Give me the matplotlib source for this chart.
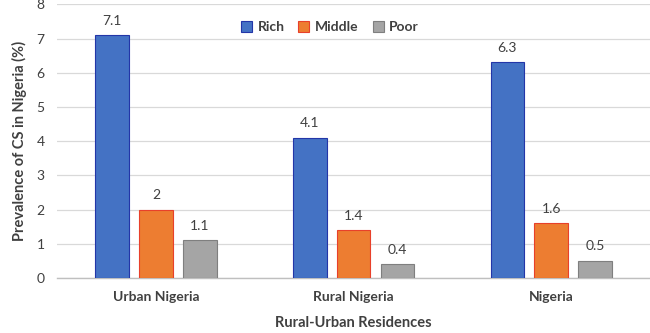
import matplotlib
matplotlib.use("Agg")
import matplotlib.pyplot as plt
import numpy as np

plt.rcParams["font.family"] = ["Lato", "DejaVu Sans"]

categories = ["Urban Nigeria", "Rural Nigeria", "Nigeria"]
series = ["Rich", "Middle", "Poor"]
rich = [7.1, 4.1, 6.3]
middle = [2, 1.4, 1.6]
poor = [1.1, 0.4, 0.5]
labels_rich = ["7.1", "4.1", "6.3"]
labels_middle = ["2", "1.4", "1.6"]
labels_poor = ["1.1", "0.4", "0.5"]

colors = ["#4472C4", "#ED7D31", "#A5A5A5"]
edges = ["#2336A8", "#E8402A", "#7F7F7F"]

fig = plt.figure(figsize=(6.5, 3.33), dpi=100)
ax = fig.add_axes([0.088, 0.165, 0.912, 0.822])

x = np.arange(len(categories))
w = 0.17
off = 0.222
for i, (vals, labs) in enumerate(zip([rich, middle, poor], [labels_rich, labels_middle, labels_poor])):
    bars = ax.bar(x + (i - 1) * off, vals, w, color=colors[i], edgecolor=edges[i],
                  linewidth=0.8, label=series[i], zorder=3)
    for b, lab in zip(bars, labs):
        ax.text(b.get_x() + b.get_width() / 2, b.get_height() + 0.25, lab,
                ha="center", va="bottom", fontsize=10, color="#404040")

ax.set_xlim(-0.5, 2.5)
ax.set_ylim(0, 8)
ax.set_yticks(range(0, 9))
ax.grid(axis="y", color="#D9D9D9", lw=0.9, zorder=0)
for s in ["top", "right", "left"]:
    ax.spines[s].set_visible(False)
ax.spines["bottom"].set_color("#BFBFBF")
ax.spines["bottom"].set_linewidth(1.0)
ax.tick_params(axis="both", length=0, labelsize=10, labelcolor="#404040")
ax.tick_params(axis="y", pad=9)
ax.tick_params(axis="x", pad=9)
ax.set_xticks(x)
ax.set_xticklabels(categories, fontweight="bold")

ax.set_ylabel("Prevalence of CS in Nigeria (%)", fontsize=10.5, fontweight="bold",
              color="#404040", labelpad=7)
ax.set_xlabel("Rural-Urban Residences", fontsize=10.5, fontweight="bold",
              color="#404040", labelpad=10)

leg = ax.legend(loc="upper center", bbox_to_anchor=(0.46, 0.985), ncol=3, frameon=False,
                fontsize=10, handlelength=0.8, handleheight=0.8, handletextpad=0.4,
                columnspacing=1.0)
for t in leg.get_texts():
    t.set_fontweight("bold")
    t.set_color("#404040")

fig.savefig("out.png", dpi=100)
